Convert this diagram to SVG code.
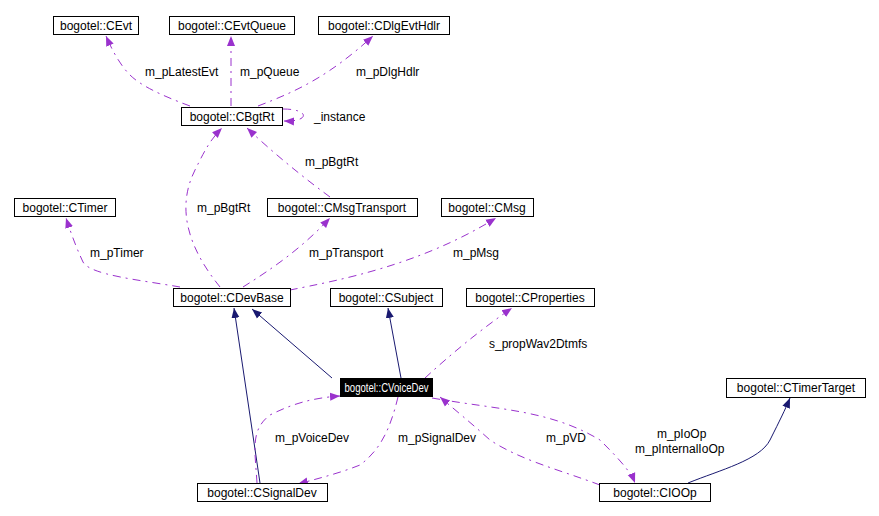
<svg xmlns="http://www.w3.org/2000/svg" width="879" height="516" viewBox="0 0 879 516">
<defs>
<style>
text{font-family:"Liberation Sans",Arial,sans-serif;font-size:12px;fill:#000}
.n rect{fill:#fff;stroke:#000;stroke-width:1}
.n text{text-anchor:middle}
.d{fill:none;stroke:#9a32cd;stroke-width:1;stroke-dasharray:8,5,2,5;marker-end:url(#ap)}
.s{fill:none;stroke:#191970;stroke-width:1;marker-end:url(#an)}
.l{text-anchor:start}
</style>
<marker id="ap" viewBox="0 0 10 10" refX="10" refY="5" markerWidth="10" markerHeight="10" markerUnits="userSpaceOnUse" orient="auto"><path d="M0,1 L10,5 L0,9 z" fill="#9a32cd"/></marker>
<marker id="an" viewBox="0 0 10 10" refX="10" refY="5" markerWidth="10" markerHeight="10" markerUnits="userSpaceOnUse" orient="auto"><path d="M0,1 L10,5 L0,9 z" fill="#191970"/></marker>
</defs>
<rect width="879" height="516" fill="#fff"/>
<g id="edges">
<path class="d" d="M190,106 C160,95 140,85 130,75 C120,65 112,50 106,36"/>
<path class="d" d="M231,106 L231,36"/>
<path class="d" d="M258,106 C300,90 330,75 373,36"/>
<path class="d" d="M283,109 C310,109 310,122 284,121"/>
<path class="d" d="M330,197 C300,175 270,150 247,128"/>
<path class="d" d="M220,287 C190,250 175,210 195,170 C205,150 210,140 222,128"/>
<path class="d" d="M180,287 C140,280 90,275 83,262 C75,245 70,230 66,218"/>
<path class="d" d="M243,287 C270,270 300,250 330,218"/>
<path class="d" d="M290,290 C340,280 420,265 496,218"/>
<path class="s" d="M332,378 L252,309"/>
<path class="s" d="M401,378 L388,308"/>
<path class="d" d="M425,378 C450,355 480,330 512,308"/>
<path class="s" d="M260,483 L234,308"/>
<path class="d" d="M257,483 C255,450 250,430 270,415 C290,405 310,398 340,396"/>
<path class="d" d="M398,397 C390,430 380,450 360,465 C340,473 320,478 298,484"/>
<path class="d" d="M600,485 C560,470 520,460 490,440 C470,422 455,410 440,397"/>
<path class="d" d="M432,398 C500,410 550,410 600,440 C615,455 630,470 635,483"/>
<path class="s" d="M688,483 C720,470 760,460 770,440 C780,420 785,410 790,398"/>
<text class="l" x="145" y="76">m_pLatestEvt</text>
<text class="l" x="240" y="76">m_pQueue</text>
<text class="l" x="356" y="76">m_pDlgHdlr</text>
<text class="l" x="314" y="121">_instance</text>
<text class="l" x="305" y="166">m_pBgtRt</text>
<text class="l" x="197" y="212">m_pBgtRt</text>
<text class="l" x="90" y="257">m_pTimer</text>
<text class="l" x="309" y="257">m_pTransport</text>
<text class="l" x="453" y="257">m_pMsg</text>
<text class="l" x="489" y="348">s_propWav2Dtmfs</text>
<text class="l" x="275" y="442">m_pVoiceDev</text>
<text class="l" x="398" y="442">m_pSignalDev</text>
<text class="l" x="546" y="442">m_pVD</text>
<text class="l" x="657" y="438">m_pIoOp</text>
<text class="l" x="635" y="453">m_pInternalIoOp</text>
</g>
<g id="CEvt" class="n"><rect x="53.5" y="16.5" width="85" height="18"/><text x="96" y="30">bogotel::CEvt</text></g>
<g id="CEvtQueue" class="n"><rect x="169.5" y="16.5" width="125" height="18"/><text x="232" y="30">bogotel::CEvtQueue</text></g>
<g id="CDlgEvtHdlr" class="n"><rect x="318.5" y="16.5" width="131" height="18"/><text x="384" y="30">bogotel::CDlgEvtHdlr</text></g>
<g id="CBgtRt" class="n"><rect x="181.5" y="107.5" width="101" height="18"/><text x="232" y="121">bogotel::CBgtRt</text></g>
<g id="CTimer" class="n"><rect x="14.5" y="198.5" width="101" height="18"/><text x="65" y="212">bogotel::CTimer</text></g>
<g id="CMsgTransport" class="n"><rect x="267.5" y="198.5" width="150" height="18"/><text x="342" y="212">bogotel::CMsgTransport</text></g>
<g id="CMsg" class="n"><rect x="441.5" y="198.5" width="92" height="18"/><text x="487" y="212">bogotel::CMsg</text></g>
<g id="CDevBase" class="n"><rect x="173.5" y="288.5" width="117" height="18"/><text x="232" y="302">bogotel::CDevBase</text></g>
<g id="CSubject" class="n"><rect x="330.5" y="288.5" width="112" height="18"/><text x="386" y="302">bogotel::CSubject</text></g>
<g id="CProperties" class="n"><rect x="466.5" y="288.5" width="128" height="18"/><text x="530" y="302">bogotel::CProperties</text></g>
<g id="CVoiceDev"><rect x="340" y="378" width="93" height="19" fill="#000"/><text x="386.5" y="392" text-anchor="middle" textLength="84" lengthAdjust="spacingAndGlyphs" style="fill:#fff">bogotel::CVoiceDev</text></g>
<g id="CTimerTarget" class="n"><rect x="726.5" y="378.5" width="139" height="19"/><text x="796" y="392">bogotel::CTimerTarget</text></g>
<g id="CSignalDev" class="n"><rect x="197.5" y="483.5" width="130" height="18"/><text x="262" y="497">bogotel::CSignalDev</text></g>
<g id="CIOOp" class="n"><rect x="599.5" y="483.5" width="111" height="18"/><text x="655" y="497">bogotel::CIOOp</text></g>
</svg>
